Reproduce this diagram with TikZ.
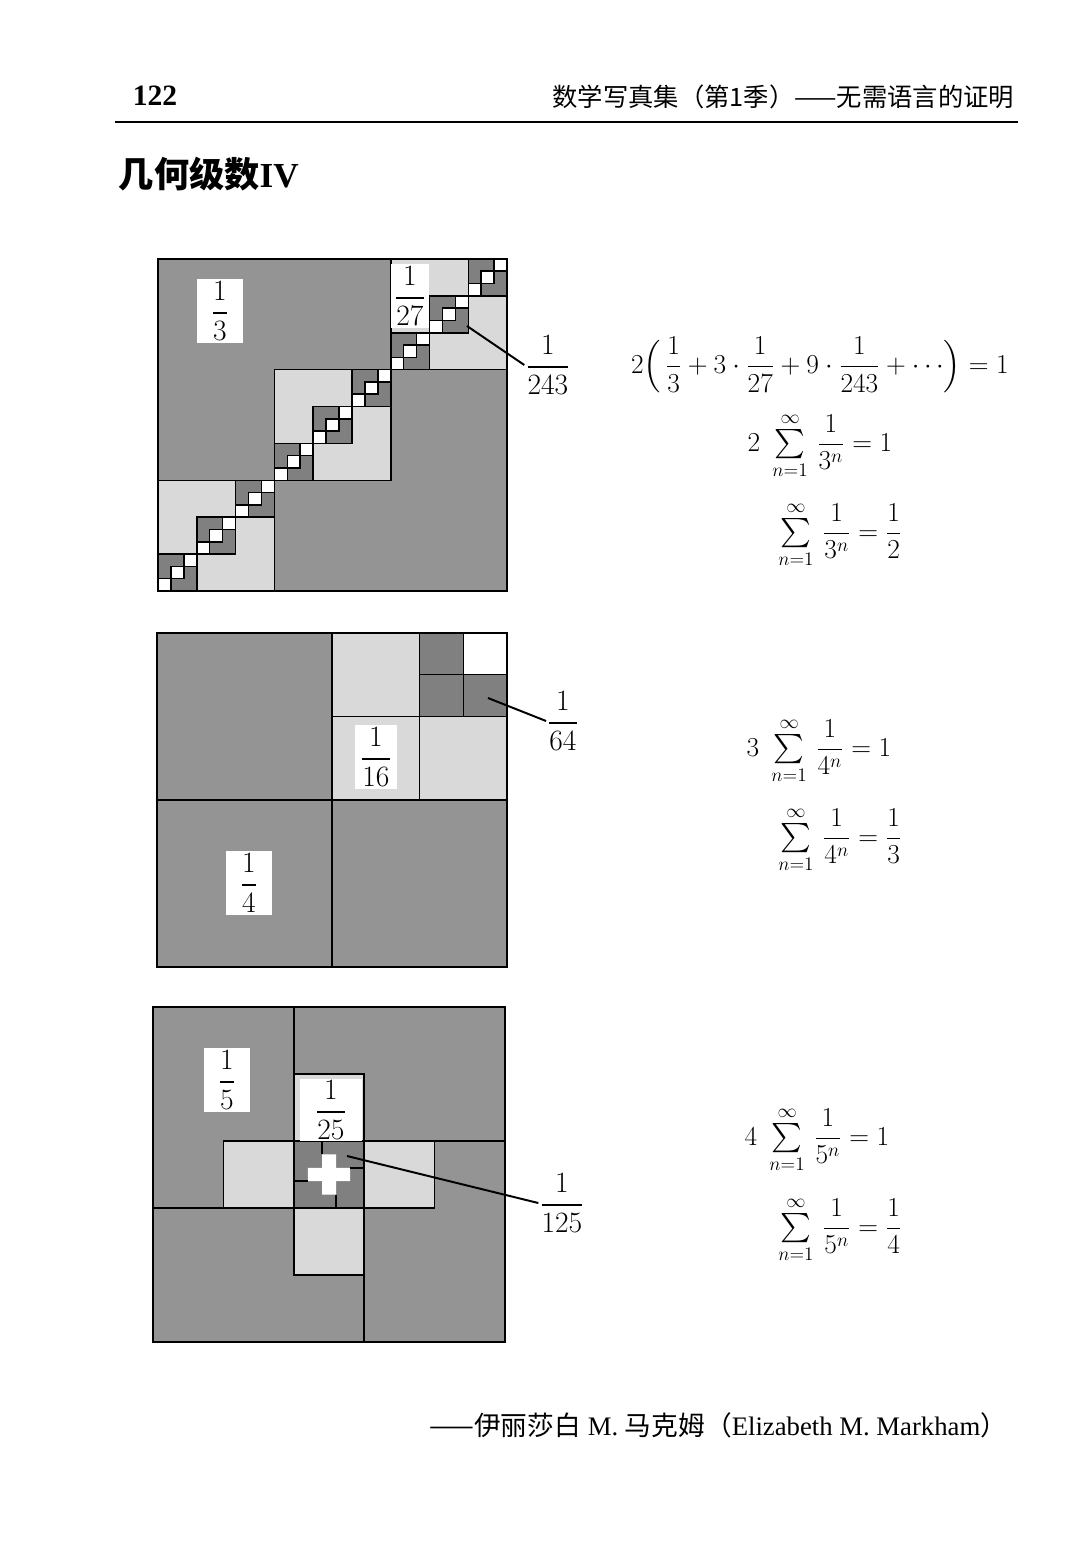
\RequirePackage{fix-cm}
\documentclass[tikz,border=0pt]{standalone}
\usepackage{exscale}
\usepackage{fontspec}
\setmainfont{Liberation Serif}
\newfontfamily\cjk{Noto Sans CJK SC}
\usetikzlibrary{positioning}
\definecolor{shdark}{gray}{0.58}
\definecolor{shlite}{gray}{0.85}
\definecolor{shdeep}{gray}{0.50}
\newcommand{\ssum}{\textstyle\sum\limits_{n=1}^{\infty}\displaystyle}

\begin{document}
\begin{tikzpicture}[x=0.025cm, y=-0.025cm,
  sq/.style={draw, line width=1.1pt},
  frame/.style={draw, line width=1.5pt},
  lab/.style={fill=white, inner sep=1pt, minimum width=1.15cm, minimum height=1.6cm, font=\fontsize{21}{24}\selectfont},
  frc/.style={inner sep=1pt, font=\fontsize{21}{24}\selectfont},
  eq/.style={inner sep=0pt, font=\fontsize{19.5}{22}\selectfont},
  ptr/.style={line width=1.4pt}]
\useasboundingbox (0,0) rectangle (1080,1548);

\node[anchor=west, font=\bfseries\fontsize{21}{24}\selectfont] (page) at (128,96) {122};
\node[anchor=east, font=\cjk\fontsize{18}{20}\selectfont] (book) at (1019,97) {数学写真集（第1季）——无需语言的证明};
\draw[line width=0.8pt] (115,122) -- (1018,122);
\node[anchor=west, font=\fontsize{25}{30}\selectfont] (title) at (114,174) {{\cjk\bfseries 几何级数}\textbf{IV}};

% thirds
\begin{scope}[shift={(158,591)}, x=8.725cm, y=8.3cm]
\fill[shdark] (0,0) rectangle (1,1);
\foreach \i in {0,1,2} {
  \filldraw[sq, fill=shlite] (\i/3,\i/3) rectangle ++(1/3,1/3);
  \foreach \j in {0,1,2} {
    \filldraw[sq, fill=shdeep] ({\i/3+\j/9},{\i/3+\j/9}) rectangle ++(1/9,1/9);
    \foreach \k in {0,1,2}
      \filldraw[sq, fill=white] ({\i/3+\j/9+\k/27},{\i/3+\j/9+\k/27}) rectangle ++(1/27,1/27);
  }
}
\draw[frame] (0,0) rectangle (1,1);
\end{scope}
\node[lab] (l3) at (220,311) {$\displaystyle\frac{1}{3}$};
\node[lab, minimum width=0.95cm] (l27) at (410,296) {$\displaystyle\frac{1}{27}$};
\node[frc] (l243) at (548,365) {$\displaystyle\frac{1}{243}$};
\coordinate (p243) at (467,326);
\draw[ptr] (l243.west) -- (p243);

% quarters
\begin{scope}[shift={(157,967)}, x=8.75cm, y=8.35cm]
\fill[shdark] (0,0) rectangle (1,1);
\fill[shlite] (0.5,0.5) rectangle (1,1);
\fill[shdeep] (0.75,0.75) rectangle (1,1);
\fill[white] (0.875,0.875) rectangle (1,1);
\foreach \o in {0,0.5,0.75} {
  \draw[sq] ({(1+\o)/2},\o) -- ({(1+\o)/2},1);
  \draw[sq] (\o,{(1+\o)/2}) -- (1,{(1+\o)/2});
}
\draw[frame] (0,0) rectangle (1,1);
\end{scope}
\node[lab] (l4) at (249,883) {$\displaystyle\frac{1}{4}$};
\node[lab, minimum width=1.05cm] (l16) at (376,757) {$\displaystyle\frac{1}{16}$};
\node[frc] (l64) at (563,721) {$\displaystyle\frac{1}{64}$};
\coordinate (p64) at (488,698);
\draw[ptr] (l64.west) -- (p64);

% fifths
\begin{scope}[shift={(153,1342)}, x=8.8cm, y=8.375cm]
\fill[shdark] (0,0) rectangle (1,1);
\filldraw[sq, fill=shlite] (.4,.8) -| (.6,.6) -| (.8,.4) -| (.6,.2) -| (.4,.4) -| (.2,.6) -| (.4,.8) -- cycle;
\filldraw[sq, fill=shdeep] (.4,.4) rectangle (.6,.6);
\fill[white, shift={(.4,.4)}, scale=.2] (.4,.8) -| (.6,.6) -| (.8,.4) -| (.6,.2) -| (.4,.4) -| (.2,.6) -| (.4,.8) -- cycle;
\foreach \o/\s in {0/1, 0.4/0.2}
  \draw[sq, shift={(\o,\o)}, scale=\s] (.4,1) -- (.4,.8) (1,.6) -- (.8,.6) (.6,0) -- (.6,.2) (0,.4) -- (.2,.4);
\draw[frame] (0,0) rectangle (1,1);
\end{scope}
\node[lab] (l5) at (227,1080) {$\displaystyle\frac{1}{5}$};
\node[lab, minimum width=1.55cm, minimum height=1.45cm] (l25) at (331,1110) {$\displaystyle\frac{1}{25}$};
\node[frc] (l125) at (562,1203) {$\displaystyle\frac{1}{125}$};
\coordinate (p125) at (347,1156);
\draw[ptr] (l125.west) -- (p125);

% sums
\node[eq] (s1) at (820,365) {$\displaystyle 2\Bigl(\,\frac{1}{3}+3\cdot\frac{1}{27}+9\cdot\frac{1}{243}+\cdots\Bigr)=1$};
\node[eq] (s2) at (820,446) {$\displaystyle 2\;\ssum\,\frac{1}{3^n}=1$};
\node[eq] (s3) at (840,535) {$\displaystyle \ssum\,\frac{1}{3^n}=\frac{1}{2}$};
\node[eq] (s4) at (819,751) {$\displaystyle 3\;\ssum\,\frac{1}{4^n}=1$};
\node[eq] (s5) at (840,840) {$\displaystyle \ssum\,\frac{1}{4^n}=\frac{1}{3}$};
\node[eq] (s6) at (817,1140) {$\displaystyle 4\;\ssum\,\frac{1}{5^n}=1$};
\node[eq] (s7) at (840,1230) {$\displaystyle \ssum\,\frac{1}{5^n}=\frac{1}{4}$};

\node[anchor=east, font=\fontsize{19}{22}\selectfont] (cred) at (1012,1425) {{\cjk ——伊丽莎白} M. {\cjk 马克姆}{\cjk （}Elizabeth M. Markham{\cjk ）}};
\end{tikzpicture}
\end{document}
